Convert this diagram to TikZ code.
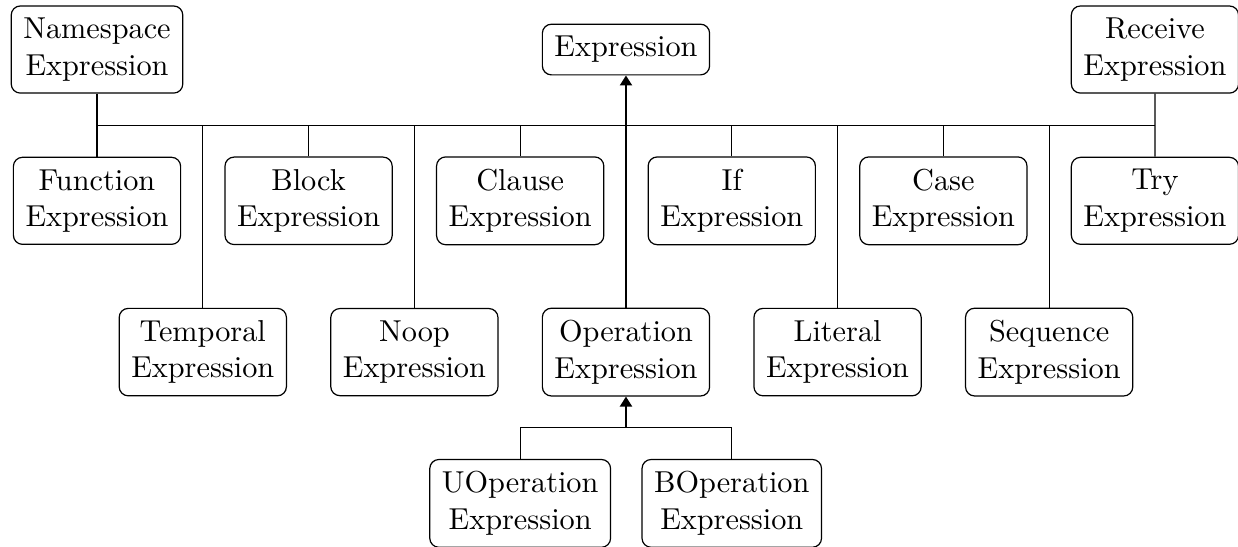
\documentclass[tikz,border=0pt]{standalone}
\usepackage{tikz}
\usetikzlibrary{arrows.meta, positioning, calc}

\begin{document}
\begin{tikzpicture}[
		node distance=1.756cm and 2.456cm, on grid,
		exprbox/.style={draw, rounded corners=3pt, align=center, inner sep=4pt},
		arrow/.style={-{Triangle[length=3.3pt, width=4pt]}, semithick}
	]
		\useasboundingbox (0,0) rectangle (14.37,-6.338);
		\node[exprbox] (expr) at (7.266,-0.575) {Expression};
		\node[exprbox] (namespace) at (1.126,-0.575) {Namespace\\Expression};
		\node[exprbox] (receive) at (13.406,-0.575) {Receive\\Expression};
		\node[exprbox, below=of namespace] (function) {Function\\Expression};
		\node[exprbox, right=of function] (block) {Block\\Expression};
		\node[exprbox, right=of block] (clause) {Clause\\Expression};
		\node[exprbox, right=of clause] (if) {If\\Expression};
		\node[exprbox, right=of if] (case) {Case\\Expression};
		\node[exprbox, right=of case] (try) {Try\\Expression};
		\node[exprbox, below right=1.756cm and 1.228cm of function] (temporal) {Temporal\\Expression};
		\node[exprbox, right=of temporal] (noop) {Noop\\Expression};
		\node[exprbox, right=of noop] (operation) {Operation\\Expression};
		\node[exprbox, right=of operation] (literal) {Literal\\Expression};
		\node[exprbox, right=of literal] (sequence) {Sequence\\Expression};
		\node[exprbox, below left=1.756cm and 1.228cm of operation] (uoperation) {UOperation\\Expression};
		\node[exprbox, right=of uoperation] (boperation) {BOperation\\Expression};
		\coordinate (bus) at ($(namespace.center)!0.5!(function.center)$);
		\coordinate (split) at ($(operation.center)!0.5!(uoperation.center)$);
		\draw (namespace) -- (function);
		\draw (receive) -- (try);
		\draw (bus) -- (bus -| receive);
		\foreach \n in {block, clause, if, case, temporal, noop, operation, literal, sequence}
			\draw (\n) -- (\n |- bus);
		\draw[arrow] (operation |- bus) -- (expr);
		\draw (uoperation) -- (uoperation |- split) -- (boperation |- split) -- (boperation);
		\draw[arrow] (split -| operation) -- (operation);
	\end{tikzpicture}
\end{document}
